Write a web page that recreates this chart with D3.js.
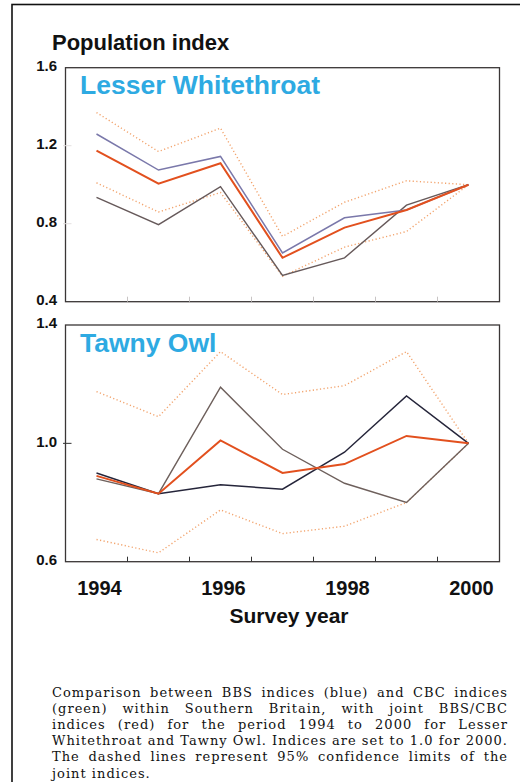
<!DOCTYPE html>
<html>
<head>
<meta charset="utf-8">
<script src="https://cdn.jsdelivr.net/npm/d3@7"></script>
<style>
  html, body { margin: 0; padding: 0; background: #fff; }
  svg { display: block; }
</style>
</head>
<body>
<svg id="chart" width="520" height="782"></svg>
<script>
// ---- Data ----
const years = [1994, 1995, 1996, 1997, 1998, 1999, 2000];
const yearLabels = [1994, 1996, 1998, 2000];

const lwBBS   = [1.26, 1.075, 1.145, 0.65, 0.83, 0.87, 1.0];
const lwCBC   = [0.935, 0.795, 0.99, 0.535, 0.625, 0.895, 1.0];
const lwJoint = [1.175, 1.005, 1.11, 0.625, 0.78, 0.87, 1.0];
const lwUpper = [1.37, 1.17, 1.29, 0.735, 0.91, 1.02, 1.0];
const lwLower = [1.01, 0.86, 0.96, 0.53, 0.68, 0.76, 1.0];

const toBBS   = [0.90, 0.83, 0.86, 0.845, 0.97, 1.16, 1.0];
const toCBC   = [0.88, 0.83, 1.19, 0.98, 0.865, 0.80, 1.0];
const toJoint = [0.89, 0.83, 1.01, 0.90, 0.93, 1.025, 1.0];
const toUpper = [1.175, 1.09, 1.31, 1.165, 1.195, 1.31, 1.0];
const toLower = [0.675, 0.63, 0.775, 0.695, 0.72, 0.80, 1.0];

const lwTicks = [1.6, 1.2, 0.8, 0.4];
const toTicks = [1.4, 1.0, 0.6];

const captionLines = [
  "Comparison between BBS indices (blue) and CBC indices",
  "(green) within Southern Britain, with joint BBS/CBC",
  "indices (red) for the period 1994 to 2000 for Lesser",
  "Whitethroat and Tawny Owl. Indices are set to 1.0 for 2000.",
  "The dashed lines represent 95% confidence limits of the",
  "joint indices."
];

// ---- Drawing ----
const svg = d3.select("#chart");
const sans = "'Liberation Sans', Arial, Helvetica, sans-serif";

svg.append("rect").attr("x", 12).attr("y", 4.5).attr("width", 540).attr("height", 820)
  .attr("fill", "none").attr("stroke", "#111").attr("stroke-width", 1.6);

svg.append("text").attr("x", 52).attr("y", 50)
  .attr("font-family", sans).attr("font-weight", "bold").attr("font-size", 22)
  .attr("fill", "#111").text("Population index");

const x = d3.scaleBand().domain(years).range([65.5, 499.5]);
const xc = d => x(d) + x.bandwidth() / 2;

const colors = {
  upper: "#f2a36c", lower: "#f2a36c",
  bbsLW: "#7a78aa", cbcLW: "#66595a", joint: "#e2501e",
  bbsTO: "#25253a", cbcTO: "#6e605c"
};

function panel(opts) {
  const y = d3.scaleLinear().domain(opts.domain).range([opts.bottom, opts.top]);
  const g = svg.append("g");

  g.append("rect").attr("x", 65.5).attr("y", opts.top).attr("width", 434)
    .attr("height", opts.bottom - opts.top)
    .attr("fill", "none").attr("stroke", "#3a3636").attr("stroke-width", 1.3);

  const boundaries = years.slice(1);
  g.selectAll(".xt").data(boundaries).join("line")
    .attr("x1", d => x(d)).attr("x2", d => x(d))
    .attr("y1", opts.bottom).attr("y2", opts.bottom - 5)
    .attr("stroke", opts.xtickColor).attr("stroke-width", 1);

  const inner = opts.ticks.filter(t => t !== opts.domain[0] && t !== opts.domain[1]);
  g.selectAll(".yt").data(inner).join("line")
    .attr("x1", 63).attr("x2", 71.5)
    .attr("y1", d => y(d)).attr("y2", d => y(d))
    .attr("stroke", opts.ytickColor).attr("stroke-width", 1);

  g.selectAll(".yl").data(opts.ticks).join("text")
    .attr("x", 57).attr("y", d => y(d) - 2).attr("dy", "0.35em")
    .attr("text-anchor", "end")
    .attr("font-family", sans).attr("font-weight", "bold").attr("font-size", 15)
    .attr("fill", "#111").text(d => d.toFixed(1));

  g.append("text").attr("x", 80).attr("y", opts.titleY)
    .attr("font-family", sans).attr("font-weight", "bold").attr("font-size", 26.5)
    .attr("fill", "#2eaae2").text(opts.title);

  const line = d3.line().x((d, i) => xc(years[i])).y(d => y(d));
  opts.series.forEach(s => {
    g.append("path").datum(s.values).attr("d", line)
      .attr("fill", "none").attr("stroke", s.color).attr("stroke-width", s.width)
      .attr("stroke-dasharray", s.dash || null)
      .attr("stroke-linejoin", "miter");
  });
  return y;
}

panel({
  domain: [0.4, 1.6], top: 67.7, bottom: 301.7, ticks: lwTicks,
  title: "Lesser Whitethroat", titleY: 94,
  xtickColor: "#c8c4c4", ytickColor: "#e4e0e0",
  series: [
    { values: lwUpper, color: colors.upper, width: 1.4, dash: "1.2,2.4" },
    { values: lwLower, color: colors.lower, width: 1.4, dash: "1.2,2.4" },
    { values: lwCBC, color: colors.cbcLW, width: 1.4 },
    { values: lwBBS, color: colors.bbsLW, width: 1.5 },
    { values: lwJoint, color: colors.joint, width: 2 }
  ]
});

panel({
  domain: [0.6, 1.4], top: 325, bottom: 561.7, ticks: toTicks,
  title: "Tawny Owl", titleY: 352,
  xtickColor: "#333", ytickColor: "#333",
  series: [
    { values: toUpper, color: colors.upper, width: 1.4, dash: "1.2,2.4" },
    { values: toLower, color: colors.lower, width: 1.4, dash: "1.2,2.4" },
    { values: toCBC, color: colors.cbcTO, width: 1.4 },
    { values: toBBS, color: colors.bbsTO, width: 1.5 },
    { values: toJoint, color: colors.joint, width: 2 }
  ]
});

svg.selectAll(".yrl").data(yearLabels).join("text")
  .attr("x", d => xc(d) + 3).attr("y", 595)
  .attr("text-anchor", "middle")
  .attr("font-family", sans).attr("font-weight", "bold").attr("font-size", 20)
  .attr("fill", "#111").text(d => d);

svg.append("text").attr("x", 289).attr("y", 623)
  .attr("text-anchor", "middle")
  .attr("font-family", sans).attr("font-weight", "bold").attr("font-size", 21)
  .attr("fill", "#111").text("Survey year");

// caption, justified (serif)
const serif = "'DejaVu Serif', 'Liberation Serif', serif";
const capLeft = 52, capRight = 508, capW = capRight - capLeft;
const capSize = 13;
const probe = svg.append("text").attr("font-family", serif).attr("font-size", capSize).text(captionLines[3]);
const wNat = probe.node().getComputedTextLength();
probe.remove();
const letterSp = Math.max(0, (capW - 1 - wNat) / (captionLines[3].length - 1));

const capG = svg.append("g").attr("font-family", serif).attr("font-size", capSize)
  .attr("letter-spacing", letterSp).attr("fill", "#111");
captionLines.forEach((ln, i) => {
  const t = capG.append("text").attr("x", capLeft).attr("y", 696.5 + i * 16.2).text(ln);
  if (i < captionLines.length - 1) {
    const nat = t.node().getComputedTextLength();
    const spaces = (ln.match(/ /g) || []).length;
    if (spaces > 0) t.attr("word-spacing", (capW - nat) / spaces);
  }
});
</script>
</body>
</html>
